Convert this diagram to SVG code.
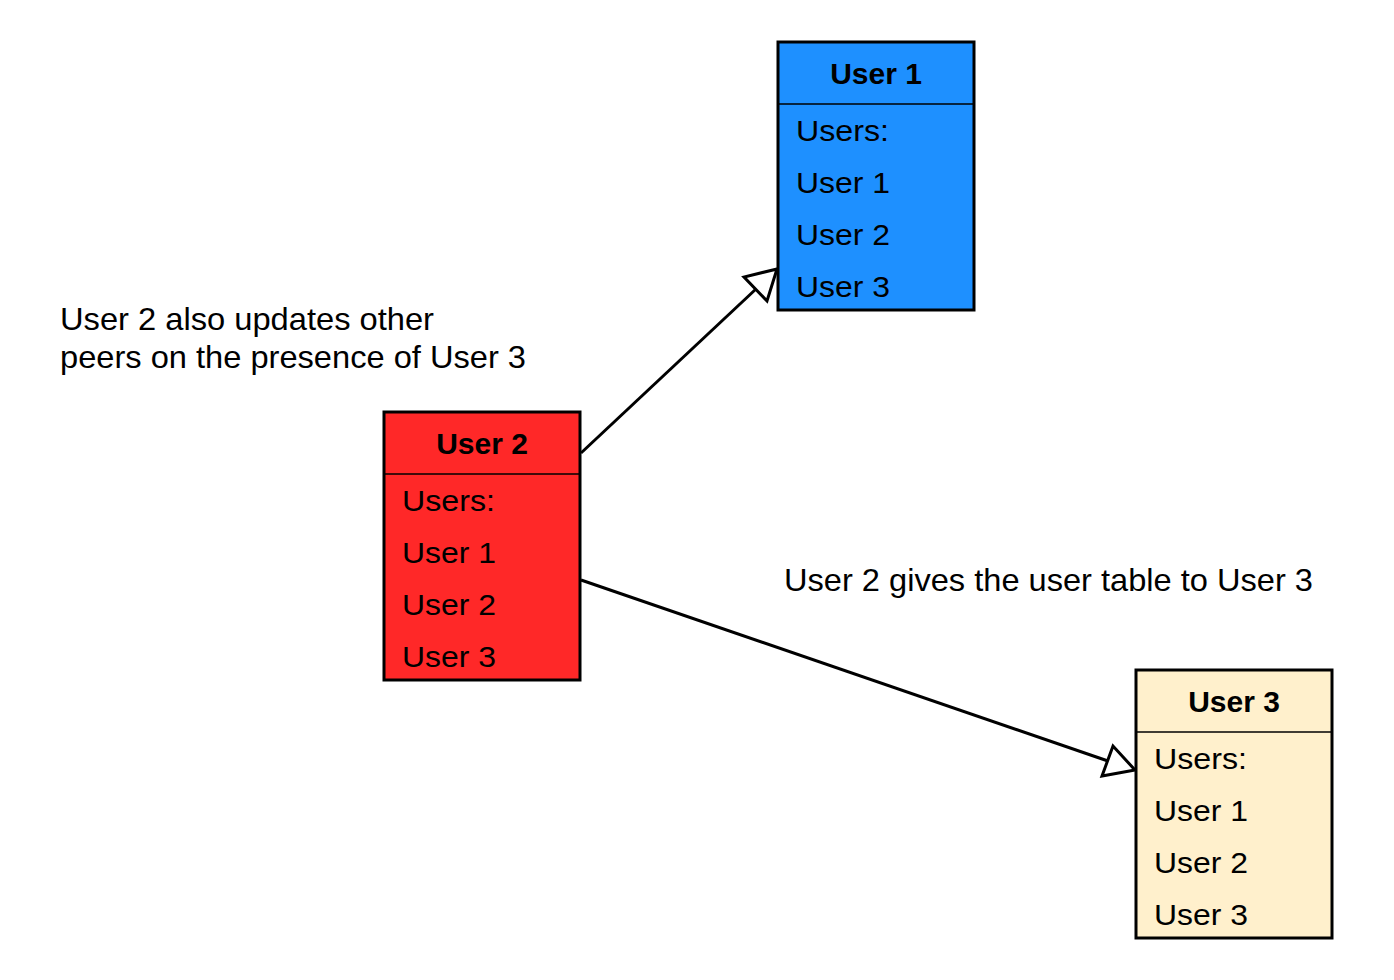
<svg xmlns="http://www.w3.org/2000/svg" width="1394" height="980" viewBox="0 0 1394 980">
<style>
.box{stroke:#000;stroke-width:3}
.sep{stroke:#000;stroke-width:1.5}
.title{font-family:"Liberation Sans",Arial,sans-serif;font-size:30px;font-weight:bold;text-anchor:middle;fill:#000}
.item{font-family:"Liberation Sans",Arial,sans-serif;font-size:30px;fill:#000}
.label{font-family:"Liberation Sans",Arial,sans-serif;font-size:30.5px;fill:#000}
.conn{stroke:#000;stroke-width:3;fill:none}
.head{fill:#fff;stroke:#000;stroke-width:3;stroke-linejoin:miter}
</style>
<rect width="1394" height="980" fill="#fff"/>
<g id="connectors">
<line class="conn" x1="581" y1="453" x2="756" y2="289"/>
<path class="head" d="M777,269 L744,277 L767,301 Z"/>
<line class="conn" x1="581" y1="580" x2="1108" y2="761"/>
<path class="head" d="M1135,770 L1113,746 L1102,776 Z"/>
</g>
<g id="user1">
<rect class="box" x="778" y="42" width="196" height="268" fill="#1E90FF"/>
<line class="sep" x1="778" y1="104" x2="974" y2="104"/>
<text class="title" x="876" y="84">User 1</text>
<text class="item" x="796" y="141" textLength="93" lengthAdjust="spacingAndGlyphs">Users:</text>
<text class="item" x="796" y="193" textLength="94" lengthAdjust="spacingAndGlyphs">User 1</text>
<text class="item" x="796" y="245" textLength="94" lengthAdjust="spacingAndGlyphs">User 2</text>
<text class="item" x="796" y="297" textLength="94" lengthAdjust="spacingAndGlyphs">User 3</text>
</g>
<g id="user2">
<rect class="box" x="384" y="412" width="196" height="268" fill="#FF2828"/>
<line class="sep" x1="384" y1="474" x2="580" y2="474"/>
<text class="title" x="482" y="454">User 2</text>
<text class="item" x="402" y="511" textLength="93" lengthAdjust="spacingAndGlyphs">Users:</text>
<text class="item" x="402" y="563" textLength="94" lengthAdjust="spacingAndGlyphs">User 1</text>
<text class="item" x="402" y="615" textLength="94" lengthAdjust="spacingAndGlyphs">User 2</text>
<text class="item" x="402" y="667" textLength="94" lengthAdjust="spacingAndGlyphs">User 3</text>
</g>
<g id="user3">
<rect class="box" x="1136" y="670" width="196" height="268" fill="#FFF0CC"/>
<line class="sep" x1="1136" y1="732" x2="1332" y2="732"/>
<text class="title" x="1234" y="712">User 3</text>
<text class="item" x="1154" y="769" textLength="93" lengthAdjust="spacingAndGlyphs">Users:</text>
<text class="item" x="1154" y="821" textLength="94" lengthAdjust="spacingAndGlyphs">User 1</text>
<text class="item" x="1154" y="873" textLength="94" lengthAdjust="spacingAndGlyphs">User 2</text>
<text class="item" x="1154" y="925" textLength="94" lengthAdjust="spacingAndGlyphs">User 3</text>
</g>
<g id="labels">
<text class="label" x="60" y="330" textLength="374" lengthAdjust="spacingAndGlyphs">User 2 also updates other</text>
<text class="label" x="60" y="368" textLength="466" lengthAdjust="spacingAndGlyphs">peers on the presence of User 3</text>
<text class="label" x="784" y="591" textLength="529" lengthAdjust="spacingAndGlyphs">User 2 gives the user table to User 3</text>
</g>
</svg>
